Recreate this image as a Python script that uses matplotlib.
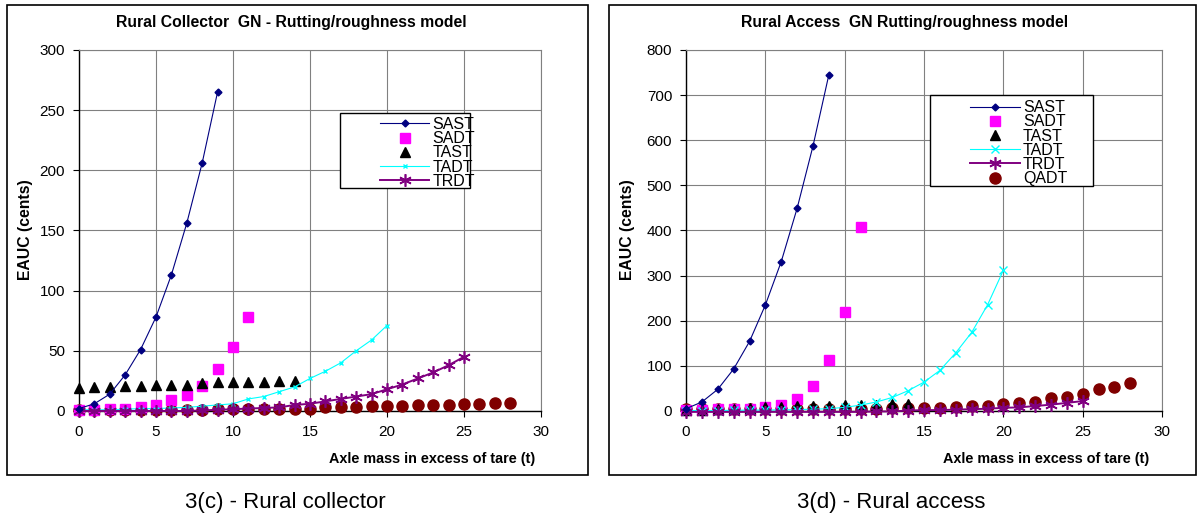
"""EAUC vs. axle mass in excess of tare for the GN rutting/roughness model,
rural collector and rural access roads side by side."""

import matplotlib.pyplot as plt
from matplotlib.patches import Rectangle

plt.rcParams["font.family"] = ["Liberation Sans", "DejaVu Sans"]

# Rural collector
col_sast_x = list(range(0, 10))
col_sast = [2, 6, 14, 30, 51, 78, 113, 156, 206, 265]
col_sadt_x = list(range(0, 12))
col_sadt = [1, 1, 1.5, 2, 3, 5, 9, 13, 21, 35, 53, 78]
col_tast_x = list(range(0, 15))
col_tast = [19, 20, 20, 21, 21, 22, 22, 22, 23, 24, 24, 24, 24, 25, 25]
col_tadt_x = list(range(0, 21))
col_tadt = [1, 1, 1, 1.5, 2, 2, 2.5, 3, 4, 5, 6, 10, 12, 16, 20, 27, 33, 40, 50, 59, 71]
col_trdt_x = list(range(0, 26))
col_trdt = [0, 0, 0, 0, 0, 0, 0, 0, 0.5, 1, 1.5, 2, 2.5, 3, 5, 6, 8, 10, 12, 14,
            18, 22, 27, 32, 38, 45]
col_qadt_x = list(range(0, 29))
col_qadt = [1, 1, 1, 1, 1, 1, 1, 1, 1, 2, 2, 2, 2, 2, 2, 2, 3, 3, 3, 4,
            4, 4, 5, 5, 5, 6, 6, 7, 7]

# Rural access
acc_sast_x = list(range(0, 10))
acc_sast = [5, 20, 48, 93, 154, 235, 331, 449, 587, 745]
acc_sadt_x = list(range(0, 12))
acc_sadt = [3, 3, 4, 4, 5, 8, 14, 27, 55, 112, 219, 408]
acc_tast_x = list(range(0, 15))
acc_tast = [2, 3, 4, 5, 6, 8, 9, 10, 10, 12, 13, 13, 13, 15, 16]
acc_tadt_x = list(range(0, 21))
acc_tadt = [1, 1, 1, 1.5, 2, 2, 2.5, 3, 4, 5, 8, 13, 20, 30, 45, 64, 90, 129,
            174, 235, 312]
acc_trdt_x = list(range(0, 26))
acc_trdt = [-2, -2, -2, -2, -2, -2, -2, -2, -2, -2, -2, -2, -1, -1, 1, 2, 2, 3,
            4, 5, 7, 8, 11, 14, 18, 22]
acc_qadt_x = list(range(0, 29))
acc_qadt = [4, 4, 4, 4, 4, 4, 4, 4, 4, 4, 4, 4, 4, 6, 7, 6, 6, 9, 10, 12,
            15, 18, 21, 28, 31, 38, 48, 54, 63]


def draw_panel(fig, rect, data, ymax, ystep, title, title_x, legend_frame, legend_anchor,
               n_legend, ylabel_x, xlabel_x, big_marks):
    ax = fig.add_axes(rect)
    (sx, sy), (dx, dy), (tx, ty), (ax_, ay), (rx, ry), (qx, qy) = data
    ms_x = 6 if big_marks else 3.5

    ax.plot(sx, sy, color="#000080", lw=0.8, marker="D", ms=3.5, clip_on=False, zorder=5, label="SAST")
    ax.plot(dx, dy, ls="none", color="#FF00FF", marker="s", ms=7, clip_on=False, zorder=4, label="SADT")
    ax.plot(tx, ty, ls="none", color="black", marker="^", ms=7.5, clip_on=False, zorder=4, label="TAST")
    ax.plot(ax_, ay, color="#00FFFF", lw=0.8, marker="x", ms=ms_x, mew=1, clip_on=False, zorder=4, label="TADT")
    ax.plot(rx, ry, color="#800080", lw=1.4, marker=(6, 2, 0), ms=9, mew=1.2, clip_on=False, zorder=4, label="TRDT")
    ax.plot(qx, qy, ls="none", color="#800000", marker="o", ms=8, clip_on=False, zorder=3, label="QADT")

    ax.set_xlim(0, 30)
    ax.set_ylim(0, ymax)
    ax.set_xticks(range(0, 31, 5))
    ax.set_yticks(range(0, ymax + 1, ystep))
    ax.grid(True, color="#808080", lw=0.8)
    ax.set_axisbelow(True)
    for side in ("top", "right"):
        ax.spines[side].set_color("#808080")
    for side in ("left", "bottom"):
        ax.spines[side].set_color("black")
        ax.spines[side].set_linewidth(1.0)
    ax.tick_params(direction="out", length=4, labelsize=11, pad=6)

    # legend box drawn separately so the entries can sit right of its left edge
    ax.add_patch(Rectangle(legend_frame[:2], legend_frame[2], legend_frame[3],
                           transform=ax.transAxes, facecolor="white", edgecolor="black",
                           lw=1.0, zorder=6, clip_on=False))
    handles, labels = ax.get_legend_handles_labels()
    leg = ax.legend(handles[:n_legend], labels[:n_legend],
                    loc="upper left", bbox_to_anchor=legend_anchor,
                    frameon=False, fontsize=11.5, handlelength=3.1, labelspacing=-0.05,
                    handletextpad=0.2, borderpad=0, borderaxespad=0)
    leg.set_zorder(7)

    fig.text(title_x, 0.957, title, ha="center", va="center", fontsize=11.3, fontweight="bold")
    fig.text(ylabel_x, 0.556, "EAUC (cents)", rotation=90, ha="center", va="center",
             fontsize=11.3, fontweight="bold")
    fig.text(xlabel_x, 0.114, "Axle mass in excess of tare (t)", ha="center", va="center",
             fontsize=10.4, fontweight="bold")
    return ax


def main() -> None:
    fig = plt.figure(figsize=(12, 5.18), dpi=100)

    # panel frames
    fig.patches.append(Rectangle((0.0058, 0.083), 0.484, 0.907, transform=fig.transFigure,
                                 fill=False, edgecolor="black", lw=1.2))
    fig.patches.append(Rectangle((0.5075, 0.083), 0.489, 0.907, transform=fig.transFigure,
                                 fill=False, edgecolor="black", lw=1.2))

    collector = [(col_sast_x, col_sast), (col_sadt_x, col_sadt), (col_tast_x, col_tast),
                 (col_tadt_x, col_tadt), (col_trdt_x, col_trdt), (col_qadt_x, col_qadt)]
    access = [(acc_sast_x, acc_sast), (acc_sadt_x, acc_sadt), (acc_tast_x, acc_tast),
              (acc_tadt_x, acc_tadt), (acc_trdt_x, acc_trdt), (acc_qadt_x, acc_qadt)]

    draw_panel(fig, [0.0658, 0.2066, 0.385, 0.697], collector, 300, 50,
               "Rural Collector  GN - Rutting/roughness model", 0.243,
               (0.565, 0.618, 0.281, 0.208), (0.6515, 0.814), 5, 0.021, 0.36,
               big_marks=False)
    draw_panel(fig, [0.5717, 0.2066, 0.3967, 0.697], access, 800, 100,
               "Rural Access  GN Rutting/roughness model", 0.754,
               (0.5126, 0.623, 0.342, 0.252), (0.597, 0.861), 6, 0.523, 0.872,
               big_marks=True)

    fig.text(0.2375, 0.029, "3(c) - Rural collector", ha="center", va="center", fontsize=16)
    fig.text(0.743, 0.029, "3(d) - Rural access", ha="center", va="center", fontsize=16)

    fig.savefig("out.png", dpi=100)
    plt.close(fig)


if __name__ == "__main__":
    main()
